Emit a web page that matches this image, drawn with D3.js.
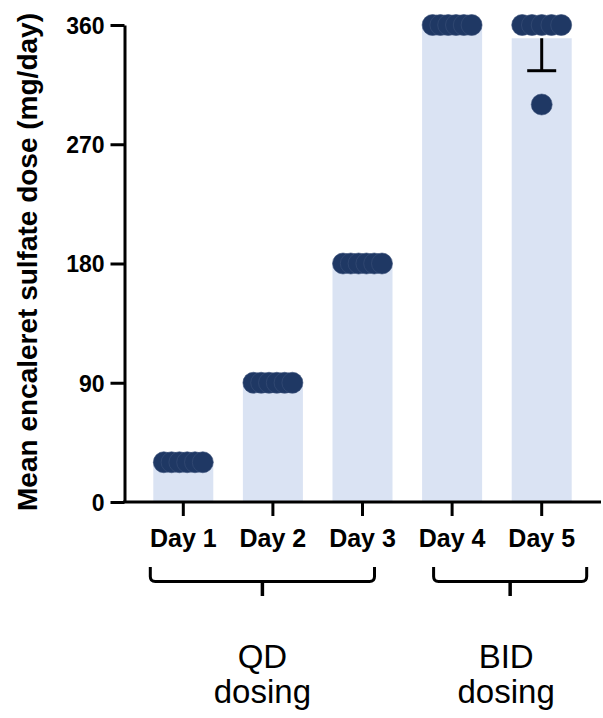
<!DOCTYPE html>
<html>
<head>
<meta charset="utf-8">
<script src="https://cdn.jsdelivr.net/npm/d3@7"></script>
<style>
  html, body { margin: 0; padding: 0; background: #fff; }
  svg { display: block; font-family: "Liberation Sans", Arial, Helvetica, sans-serif; }
</style>
</head>
<body>
<svg id="chart" width="603" height="718"></svg>
<script>
// ---- data ----
const days = ["Day 1", "Day 2", "Day 3", "Day 4", "Day 5"];
const day1 = [30, 30, 30, 30, 30, 30];
const day2 = [90, 90, 90, 90, 90, 90];
const day3 = [180, 180, 180, 180, 180, 180];
const day4 = [360, 360, 360, 360, 360, 360];
const day5 = [360, 360, 360, 360, 360, 300];
const yTicks = [0, 90, 180, 270, 360];
const yTitle = "Mean encaleret sulfate dose (mg/day)";
const groupLabels = [["QD", "dosing"], ["BID", "dosing"]];
const groupFrom = ["Day 1", "Day 4"];
const groupTo = ["Day 3", "Day 5"];

const series = [day1, day2, day3, day4, day5];

// ---- styles ----
const barColor = "#dae3f3";
const dotColor = "#1f3864";
const ink = "#000";

const svg = d3.select("#chart");

const x = d3.scaleBand().domain(days).range([138.5, 586.5]).paddingInner(0.33).paddingOuter(0.165);
const y = d3.scaleLinear().domain([0, 360]).range([502, 25]);

const barW = 60;
const centre = d => x(d) + x.bandwidth() / 2;

// bars
const stats = days.map((d, i) => ({
  day: d,
  vals: series[i],
  mean: d3.mean(series[i]),
  sd: d3.deviation(series[i]) || 0
}));

svg.append("g").selectAll("rect").data(stats).join("rect")
  .attr("x", d => centre(d.day) - barW / 2)
  .attr("width", barW)
  .attr("y", d => y(d.mean))
  .attr("height", d => y(0) - y(d.mean))
  .attr("fill", barColor);

// error bars (downward, only where SD > 0)
const eg = svg.append("g").attr("stroke", ink).attr("stroke-width", 3);
stats.filter(d => d.sd > 0).forEach(d => {
  const cx = centre(d.day);
  eg.append("line").attr("x1", cx).attr("x2", cx).attr("y1", y(d.mean)).attr("y2", y(d.mean - d.sd));
  eg.append("line").attr("x1", cx - 14.5).attr("x2", cx + 14.5).attr("y1", y(d.mean - d.sd)).attr("y2", y(d.mean - d.sd));
});

// dots: identical values spread horizontally
const spread = 39, r = 10.5;
const dots = [];
stats.forEach(s => {
  const groups = d3.group(s.vals, v => v);
  groups.forEach((arr, v) => {
    const n = arr.length;
    arr.forEach((_, k) => {
      const off = n === 1 ? 0 : -spread / 2 + k * spread / (n - 1);
      dots.push({ day: s.day, v, off });
    });
  });
});
svg.append("g").selectAll("circle").data(dots).join("circle")
  .attr("cx", d => centre(d.day) + d.off)
  .attr("cy", d => y(d.v))
  .attr("r", r)
  .attr("fill", dotColor)
  .attr("stroke", "#3b5078")
  .attr("stroke-width", 0.6);

// y axis
const yAxis = svg.append("g").attr("transform", "translate(124.5,0)")
  .call(d3.axisLeft(y).tickValues(yTicks).tickSize(14).tickSizeOuter(0).tickPadding(6));
yAxis.select(".domain").attr("stroke", ink).attr("stroke-width", 3);
yAxis.selectAll(".tick line").attr("stroke", ink).attr("stroke-width", 3);
yAxis.selectAll(".tick text").attr("fill", ink).attr("font-size", 23).attr("font-weight", "bold")
  .attr("font-family", "Liberation Sans, Arial, sans-serif").attr("dy", "0.36em");

// x axis
const xAxis = svg.append("g").attr("transform", "translate(0,502)")
  .call(d3.axisBottom(x).tickSize(14).tickSizeOuter(0).tickPadding(10));
xAxis.select(".domain").remove();
xAxis.append("line").attr("x1", 123).attr("x2", 601).attr("y1", 0).attr("y2", 0)
  .attr("stroke", ink).attr("stroke-width", 3);
xAxis.selectAll(".tick line").attr("stroke", ink).attr("stroke-width", 3);
xAxis.selectAll(".tick text").attr("fill", ink).attr("font-size", 25).attr("font-weight", "bold")
  .attr("font-family", "Liberation Sans, Arial, sans-serif").attr("dy", "0.82em");

// y title
svg.append("text")
  .attr("transform", "translate(37,262) rotate(-90)")
  .attr("text-anchor", "middle")
  .attr("font-size", 28).attr("font-weight", "bold").attr("fill", ink)
  .text(yTitle);

// brackets
const bracketOffsets = [[-33, 12], [-18.5, 45]];
const bTop = 567, bBot = 581.5, bStem = 596, cr = 5;
groupLabels.forEach((lab, i) => {
  const x0 = centre(groupFrom[i]) + bracketOffsets[i][0];
  const x1 = centre(groupTo[i]) + bracketOffsets[i][1];
  const mid = (x0 + x1) / 2;
  const p = d3.path();
  p.moveTo(x0, bTop);
  p.lineTo(x0, bBot - cr);
  p.quadraticCurveTo(x0, bBot, x0 + cr, bBot);
  p.lineTo(x1 - cr, bBot);
  p.quadraticCurveTo(x1, bBot, x1, bBot - cr);
  p.lineTo(x1, bTop);
  svg.append("path").attr("d", p.toString()).attr("fill", "none")
    .attr("stroke", ink).attr("stroke-width", 3);
  svg.append("line").attr("x1", mid).attr("x2", mid).attr("y1", bBot).attr("y2", bStem)
    .attr("stroke", ink).attr("stroke-width", 3.5);
  const t = svg.append("text").attr("text-anchor", "middle").attr("font-size", 33).attr("fill", ink);
  lab.forEach((line, j) => {
    t.append("tspan").attr("x", mid + (i === 1 ? -4 : 0)).attr("y", 668 + j * 35).text(line);
  });
});
</script>
</body>
</html>
